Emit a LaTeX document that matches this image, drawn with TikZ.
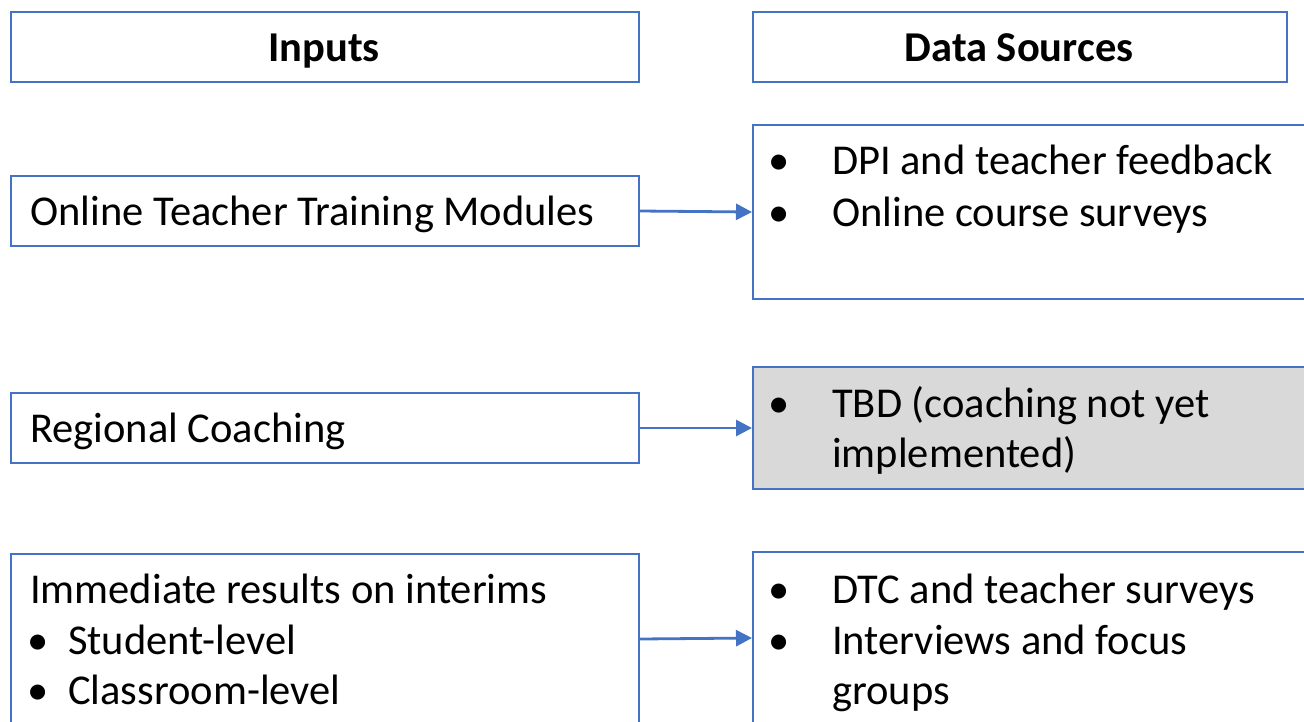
\documentclass[tikz,border=0pt]{standalone}
\usepackage{fontspec}
\setmainfont{Carlito}
\usetikzlibrary{arrows.meta}
\definecolor{frame}{HTML}{4472C4}
\definecolor{shade}{HTML}{D9D9D9}
\tikzset{
  box/.style={draw=frame, line width=2pt, inner sep=0pt, anchor=north west},
  txt/.style={inner sep=0pt, anchor=base west, font=\fontsize{42.5}{50}\selectfont},
  dot/.style={inner sep=0pt, anchor=base, font=\fontsize{42.5}{50}\selectfont},
  head/.style={inner sep=0pt, anchor=base, font=\fontsize{42.5}{50}\selectfont\bfseries},
  link/.style={draw=frame, line width=2.8pt, -{Triangle[length=16pt,width=16pt]}}
}
\begin{document}
\begin{tikzpicture}[x=1pt,y=-1pt]
\useasboundingbox (0,0) rectangle (1304,721);
\clip (0,0) rectangle (1304,721);
% column headers
\node[box, minimum width=628pt, minimum height=70pt] (hin) at (10,11) {};
\node[box, minimum width=534pt, minimum height=70pt] (hds) at (752,11) {};
\node[head] (hint) at (324,61) {Inputs};
\node[head] (hdst) at (1019,61) {Data Sources};
% row 1
\node[box, minimum width=628pt, minimum height=70pt] (in1) at (10,175) {};
\node[txt] (in1t) at (30,225) {Online Teacher Training Modules};
\node[box, minimum width=580pt, minimum height=174pt] (ds1) at (752,124) {};
\node[dot] (ds1b1) at (779,174) {•};
\node[txt] (ds1t1) at (832,174) {DPI and teacher feedback};
\node[dot] (ds1b2) at (779,226) {•};
\node[txt] (ds1t2) at (832,226) {Online course surveys};
% row 2
\node[box, minimum width=628pt, minimum height=70pt] (in2) at (10,392) {};
\node[txt] (in2t) at (30,442) {Regional Coaching};
\node[box, fill=shade, minimum width=580pt, minimum height=122pt] (ds2) at (752,366) {};
\node[dot] (ds2b1) at (779,417) {•};
\node[txt] (ds2t1) at (832,417) {TBD (coaching not yet};
\node[txt] (ds2t2) at (832,467) {implemented)};
% row 3
\node[box, minimum width=628pt, minimum height=170pt] (in3) at (10,553) {};
\node[txt] (in3t) at (30,603) {Immediate results on interims};
\node[dot] (in3b1) at (38,654) {•};
\node[txt] (in3t1) at (68,654) {Student-level};
\node[dot] (in3b2) at (38,704) {•};
\node[txt] (in3t2) at (68,704) {Classroom-level};
\node[box, minimum width=580pt, minimum height=172pt] (ds3) at (752,551) {};
\node[dot] (ds3b1) at (779,603) {•};
\node[txt] (ds3t1) at (832,603) {DTC and teacher surveys};
\node[dot] (ds3b2) at (779,654) {•};
\node[txt] (ds3t2) at (832,654) {Interviews and focus};
\node[txt] (ds3t3) at (832,704) {groups};
% connectors
\draw[link] (in1.east) -- (ds1.west);
\draw[link] (in2.east) -- (ds2.west);
\draw[link] (in3.east) -- (ds3.west);
\end{tikzpicture}
\end{document}
